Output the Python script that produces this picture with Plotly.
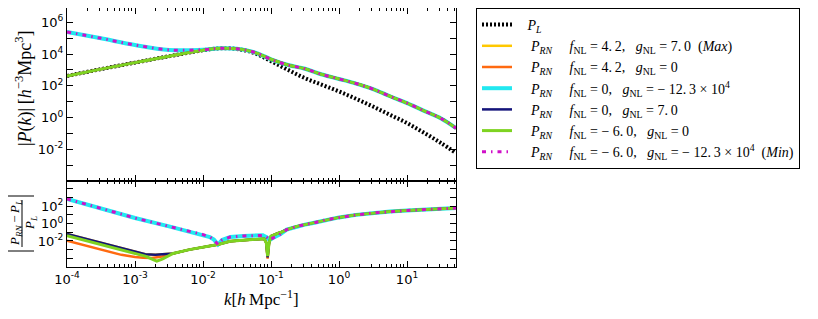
import numpy as np
import plotly.graph_objects as go
from plotly.subplots import make_subplots

# ---------------- data (log10 values) ----------------
# top panel: |P(k)|
logk_top = [-4.0, -3.5, -3.0, -2.5, -2.0, -1.75, -1.5, -1.25, -1.0, -0.75, -0.5,
            -0.25, 0.0, 0.25, 0.5, 0.75, 1.0, 1.25, 1.5, 1.72]
logP_L = [2.62, 3.05, 3.46, 3.86, 4.24, 4.36, 4.32, 4.07, 3.55, 3.0, 2.48,
          2.06, 1.64, 1.18, 0.69, 0.17, -0.35, -0.96, -1.61, -2.24]
logP_RN_f = [2.62, 3.05, 3.46, 3.86, 4.24, 4.36, 4.33, 4.12, 3.67, 3.31, 3.07,
             2.71, 2.43, 2.14, 1.79, 1.34, 0.91, 0.42, -0.06, -0.67]
logP_RN_g = [5.39, 4.99, 4.57, 4.26, 4.27, 4.36, 4.33, 4.12, 3.67, 3.31, 3.07,
             2.71, 2.43, 2.14, 1.79, 1.34, 0.91, 0.42, -0.06, -0.67]

# bottom panel: |P_RN - P_L| / P_L
logk_tail = [-0.62, -0.5, -0.38, -0.2, 0.0, 0.25, 0.5, 0.75, 1.0, 1.35, 1.72]
ratio_tail = [-0.32, -0.12, 0.06, 0.42, 0.71, 1.0, 1.21, 1.38, 1.51, 1.65, 1.78]

logk_rise = [-2.44, -2.2, -2.0, -1.78, -1.6, -1.4, -1.2, -1.1, -1.07, -1.05, -1.03,
             -1.0, -0.95, -0.9, -0.85, -0.77]
ratio_rise = [-3.44, -3.0, -2.7, -2.41, -2.03, -1.88, -1.8, -1.76, -2.2, None, -2.3,
              -1.45, -1.25, -1.12, -1.0, -0.7]

logk_navy_low = [-4.0, -3.5, -3.0, -2.85, -2.7, -2.55]
ratio_navy_low = [-1.19, -2.24, -3.29, -3.52, -3.6, -3.55]
dip_navy = -3.9

logk_yellow_low = [-4.0, -3.5, -3.0, -2.85, -2.7, -2.55]
ratio_yellow_low = [-1.19, -2.24, -3.29, -3.52, -3.6, -3.55]
dip_yellow = -3.9

logk_orange_low = [-4.0, -3.5, -3.2, -3.0, -2.88, -2.75, -2.6, -2.5]
ratio_orange_low = [-1.96, -3.0, -3.6, -3.85, -3.94, -3.95, -3.8, -3.6]
dip_orange = -4.05

logk_green_low = [-4.0, -3.5, -3.0, -2.85, -2.75, -2.68, -2.6, -2.5]
ratio_green_low = [-1.39, -2.44, -3.49, -3.75, -4.1, -4.32, -4.1, -3.65]
dip_green = -3.75

logk_cyan = [-4.0, -3.5, -3.0, -2.5, -2.0, -1.9, -1.84, -1.78, -1.72, -1.6, -1.4,
             -1.2, -1.12, -1.06, -1.02, -0.98, -0.94, -0.86, -0.77]
ratio_cyan = [2.84, 1.74, 0.64, -0.33, -1.27, -1.55, -1.85, -2.41, -1.9, -1.55, -1.42,
              -1.38, -1.36, -1.6, -1.9, -1.7, -1.54, -1.2, -0.7]

NB = "\u00a0"
TH = "\u2009"
MI = "\u2212"
PRN = NB * 4 + "<i>P<sub>RN</sub></i>" + NB * 5
FNL = "<i>f</i><sub>NL</sub>" + NB + "=" + NB
GNL = "," + NB * 3 + "<i>g</i><sub>NL</sub>" + NB + "=" + NB
names = {
    "PL": NB * 3 + "<i>P<sub>L</sub></i>",
    "yellow": PRN + FNL + "4." + TH + "2" + GNL + "7." + TH + "0" + NB * 2 + "(<i>Max</i>)",
    "orange": PRN + FNL + "4." + TH + "2" + GNL + "0",
    "cyan": PRN + FNL + "0" + GNL + MI + NB + "12." + TH + "3" + NB + "\u00d7" + NB + "10<sup>4</sup>",
    "navy": PRN + FNL + "0" + GNL + "7." + TH + "0",
    "green": PRN + FNL + MI + NB + "6." + TH + "0" + GNL + "0",
    "magenta": PRN + FNL + MI + NB + "6." + TH + "0" + GNL + MI + NB + "12." + TH + "3"
               + NB + "\u00d7" + NB + "10<sup>4</sup>" + NB * 2 + "(<i>Min</i>)",
}

colors = {"PL": "black", "yellow": "#FFC800", "orange": "#FF6A10", "cyan": "#22E8F0",
          "navy": "#14147A", "green": "#7ED321", "magenta": "#D010C8"}


def pw(v):
    return [None if x is None else 10 ** x for x in v]


def bottom_series(lk_low, r_low, dip):
    rr = list(ratio_rise)
    rr[logk_rise.index(-1.05)] = dip
    return lk_low + logk_rise + logk_tail, r_low + rr + ratio_tail


# ---------------- figure ----------------
fig = make_subplots(rows=2, cols=1, shared_xaxes=True, vertical_spacing=0,
                    row_heights=[173, 86])

lines = {
    "PL": dict(color=colors["PL"], width=4, dash="2px,2px"),
    "yellow": dict(color=colors["yellow"], width=2.5),
    "orange": dict(color=colors["orange"], width=2.5),
    "cyan": dict(color=colors["cyan"], width=4),
    "navy": dict(color=colors["navy"], width=2.5),
    "green": dict(color=colors["green"], width=3),
    "magenta": dict(color=colors["magenta"], width=3, dash="4px,5px,1.5px,5px"),
}

top_vals = {"PL": logP_L, "yellow": logP_RN_f, "orange": logP_RN_f, "cyan": logP_RN_g,
            "navy": logP_RN_f, "green": logP_RN_f, "magenta": logP_RN_g}

bottom_vals = {
    "yellow": bottom_series(logk_yellow_low, ratio_yellow_low, dip_yellow),
    "orange": bottom_series(logk_orange_low, ratio_orange_low, dip_orange),
    "cyan": (logk_cyan + logk_tail, ratio_cyan + ratio_tail),
    "navy": bottom_series(logk_navy_low, ratio_navy_low, dip_navy),
    "green": bottom_series(logk_green_low, ratio_green_low, dip_green),
    "magenta": (logk_cyan + logk_tail, ratio_cyan + ratio_tail),
}

order = ["PL", "yellow", "orange", "cyan", "navy", "green", "magenta"]
for key in order:
    fig.add_trace(go.Scatter(x=pw(logk_top), y=pw(top_vals[key]), mode="lines",
                             line=lines[key], name=names[key], legendgroup=key,
                             line_shape="spline"), row=1, col=1)
for key in order[1:]:
    lk, rv = bottom_vals[key]
    fig.add_trace(go.Scatter(x=pw(lk), y=pw(rv), mode="lines", line=lines[key],
                             name=names[key], legendgroup=key, showlegend=False,
                             connectgaps=True), row=2, col=1)

tickfont = dict(family="DejaVu Sans", size=13, color="black")


def sup(e):
    return "10<sup>%s</sup>" % e


minor_x = [m * 10.0 ** d for d in range(-4, 2) for m in range(2, 10)]
axis_common = dict(type="log", showline=True, linecolor="black", linewidth=1,
                   mirror="ticks", ticks="inside", ticklen=6, tickwidth=1,
                   tickcolor="black", showgrid=False, zeroline=False, tickfont=tickfont)

fig.update_xaxes(**axis_common, range=[-4, 1.72],
                 tickvals=[10.0 ** e for e in range(-4, 2)],
                 ticktext=[sup(e) for e in range(-4, 2)],
                 minor=dict(ticks="inside", ticklen=3, tickcolor="black",
                            tickvals=minor_x, showgrid=False))
fig.update_xaxes(showticklabels=False, row=1, col=1)

fig.update_yaxes(**axis_common, row=1, col=1, range=[-4, 6.9],
                 tickvals=[10.0 ** e for e in range(-4, 7)],
                 ticktext=[sup(e) if (e % 2 == 0 and e > -4) else "" for e in range(-4, 7)])
fig.update_yaxes(**axis_common, row=2, col=1, range=[-5, 4.9],
                 tickvals=[10.0 ** e for e in range(-5, 5)],
                 ticktext=[sup(e) if (e % 2 == 0 and -2 <= e <= 2) else "" for e in range(-5, 5)])

# page has an 8px body margin; figure is sized so nothing overflows the window
OFF = 8
W, H = 818 - 2 * OFF, 319 - 2 * OFF
L, R, T, B = 67, 456, 8, 267  # plot area in window pixels


def px(X):
    return (X - L) / (R - L)


def py(Y):
    return (B - Y) / (B - T)


serif = "Liberation Serif"
ann = [
    dict(text="|<i>P</i>(<i>k</i>)|" + TH + "[<i>h</i><sup>" + MI + "3</sup>Mpc<sup>3</sup>]",
         x=px(24), y=py(88), textangle=-90, font=dict(family=serif, size=18, color="black")),
    dict(text="<i>P<sub>RN</sub></i>" + TH + MI + TH + "<i>P<sub>L</sub></i>",
         x=px(15), y=py(223), textangle=-90, font=dict(family=serif, size=13, color="black")),
    dict(text="<i>P<sub>L</sub></i>",
         x=px(30), y=py(223), textangle=-90, font=dict(family=serif, size=13, color="black")),
    dict(text="<i>k</i>[<i>h</i>" + TH + "Mpc<sup>" + MI + "1</sup>]",
         x=px(262), y=py(298), font=dict(family=serif, size=17, color="black")),
]
for a in ann:
    a.update(xref="paper", yref="paper", showarrow=False, xanchor="center", yanchor="middle")

shapes = [
    dict(type="line", x0=px(22), x1=px(22), y0=py(200), y1=py(247)),
    dict(type="line", x0=px(7), x1=px(34), y0=py(196), y1=py(196)),
    dict(type="line", x0=px(7), x1=px(34), y0=py(251), y1=py(251)),
]
for s in shapes:
    s.update(xref="paper", yref="paper", line=dict(color="black", width=1))

fig.update_layout(
    width=W, height=H, autosize=False,
    margin=dict(l=L - OFF, r=W - (R - OFF), t=T - OFF, b=H - (B - OFF)),
    paper_bgcolor="white", plot_bgcolor="white",
    annotations=ann, shapes=shapes,
    legend=dict(x=px(476), y=1.0, xanchor="left", yanchor="top",
                bordercolor="black", borderwidth=1, bgcolor="white",
                font=dict(family=serif, size=14, color="black"),
                tracegroupgap=0, itemwidth=30),
)

fig.write_html("out.html")
